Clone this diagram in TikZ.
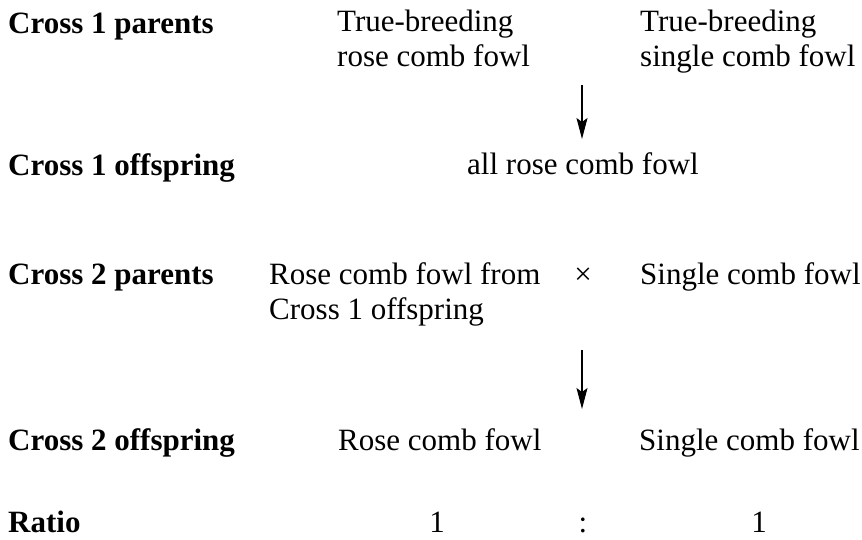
\documentclass[tikz,border=0pt]{standalone}
\usepackage{fontspec}
\setmainfont{Liberation Serif}
\usetikzlibrary{arrows.meta}

\newcommand{\crosstext}{\fontsize{31}{35}\selectfont}

\tikzset{
	rowlabel/.style={anchor=base west, inner sep=0pt, font=\crosstext\bfseries},
	entry/.style={anchor=base west, inner sep=0pt, align=left, font=\crosstext},
	sym/.style={anchor=base, inner sep=0pt, font=\crosstext},
	crossarrow/.style={-{Stealth[length=21pt,width=11pt,inset=4pt]}, line width=1.1pt}
}

\begin{document}
\begin{tikzpicture}[x=1pt,y=-1pt]
	\useasboundingbox (0,0) rectangle (862,539);
	% row labels
	\node[rowlabel] (lpar1) at (8,33) {Cross 1 parents};
	\node[rowlabel] (loff1) at (8,175) {Cross 1 offspring};
	\node[rowlabel] (lpar2) at (8,284) {Cross 2 parents};
	\node[rowlabel] (loff2) at (8,450) {Cross 2 offspring};
	\node[rowlabel] (lratio) at (8,532) {Ratio};
	% cross 1 (two-line nodes sit on their last line)
	\node[entry] (rose1) at (337,66) {True-breeding\\rose comb fowl};
	\node[entry] (single1) at (640,66) {True-breeding\\single comb fowl};
	\node[sym] (allrose) at (583,174) {all rose comb fowl};
	% cross 2
	\node[entry] (rose2) at (269,319) {Rose comb fowl from\\Cross 1 offspring};
	\node[sym] (times) at (583,284) {×};
	\node[entry] (single2) at (640,284) {Single comb fowl};
	\node[entry] (rose3) at (338,450) {Rose comb fowl};
	\node[entry] (single3) at (639,450) {Single comb fowl};
	% ratio
	\node[sym] (one1) at (437,532) {1};
	\node[sym] (colon) at (583,532) {:};
	\node[sym] (one2) at (759,532) {1};
	% arrows
	\coordinate (arr1a) at (582,85);
	\coordinate (arr1b) at (582,139);
	\coordinate (arr2a) at (582,350);
	\coordinate (arr2b) at (582,409);
	\draw[crossarrow] (arr1a) -- (arr1b);
	\draw[crossarrow] (arr2a) -- (arr2b);
\end{tikzpicture}
\end{document}
